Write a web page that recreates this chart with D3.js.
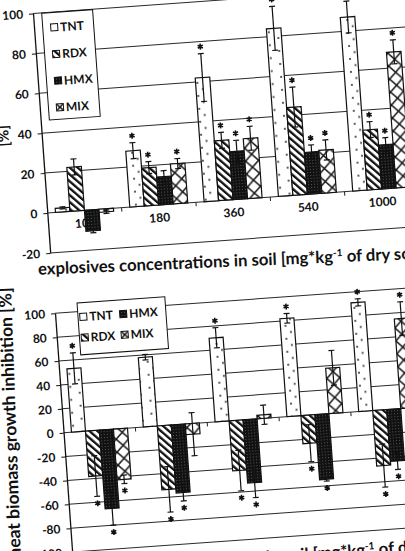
<!DOCTYPE html>
<html>
<head>
<meta charset="utf-8">
<script src="https://cdn.jsdelivr.net/npm/d3@7"></script>
<style>
  body { margin: 0; background: #fff; }
  svg { display: block; font-family: Lato, "Open Sans", sans-serif; }
</style>
</head>
<body>
<div id="chart"></div>
<script>
// Two tilted bar charts (photo of a printed page): growth inhibition [%] by explosive and soil concentration

const categories = ["100", "180", "360", "540", "1000"];
const seriesNames = ["TNT", "RDX", "HMX", "MIX"];

// upper chart
const upperTNT = [2, 28, 62, 84, 87];
const upperRDX = [22, 19, 30, 44, 30];
const upperHMX = [-10.5, 14, 24, 21, 22];
const upperMIX = [-1.5, 20, 30, 21.5, 68];
const upperErrTNT = [0.5, 4, 12, 11, 8];
const upperErrRDX = [4, 3, 4, 10, 4];
const upperErrHMX = [1, 3, 5.5, 3.5, 3.5];
const upperErrMIX = [0.8, 2.5, 6, 5, 6];
const upperSigTNT = [0, 1, 1, 1, 1];
const upperSigRDX = [0, 1, 1, 1, 1];
const upperSigHMX = [0, 0, 1, 1, 1];
const upperSigMIX = [0, 1, 1, 1, 1];
const upperTicks = [-20, 0, 20, 40, 60, 80, 100];

// lower chart
const lowerTNT = [53, 58, 70, 82, 91];
const lowerRDX = [-38, -53.5, -42, -23.5, -46.5];
const lowerHMX = [-66, -57, -53, -54.5, -43.5];
const lowerMIX = [-42.5, -9, 3, 38, 75];
const lowerErrTNT = [13, 2.3, 8.4, 4, 3];
const lowerErrRDX = [17, 19, 17, 15.5, 18];
const lowerErrHMX = [14, 7, 12.5, 1.5, 7];
const lowerErrMIX = [3.5, 18, 8, 14.5, 14];
const lowerSigTNT = [1, 1, 1, 1, 1];
const lowerSigRDX = [1, 1, 1, 1, 1];
const lowerSigHMX = [1, 1, 1, 1, 1];
const lowerSigMIX = [1, 0, 0, 0, 1];
const lowerTicks = [-100, -80, -60, -40, -20, 0, 20, 40, 60, 80, 100];

const xTitle = "explosives concentrations in soil [mg*kg";
const xTitleSup = "-1";
const xTitleEnd = " of dry soil]";

// page in the photo is tilted (and slightly bent, so some titles lean less)
const tilt = -4.1;

const svg = d3.select("#chart").append("svg")
  .attr("width", 405)
  .attr("height", 551);

// fill patterns
const defs = svg.append("defs");

const pTNT = defs.append("pattern").attr("id", "pat-TNT")
  .attr("patternUnits", "userSpaceOnUse").attr("width", 14).attr("height", 13);
pTNT.append("rect").attr("width", 14).attr("height", 13).attr("fill", "#fff");
pTNT.append("circle").attr("cx", 5).attr("cy", 3).attr("r", 0.9).attr("fill", "#111");
pTNT.append("circle").attr("cx", 10).attr("cy", 9.5).attr("r", 0.9).attr("fill", "#111");

const pRDX = defs.append("pattern").attr("id", "pat-RDX")
  .attr("patternUnits", "userSpaceOnUse").attr("width", 5.2).attr("height", 5.2)
  .attr("patternTransform", "rotate(-45)");
pRDX.append("rect").attr("width", 5.2).attr("height", 5.2).attr("fill", "#fff");
pRDX.append("rect").attr("width", 2.3).attr("height", 5.2).attr("fill", "#111");

const pHMX = defs.append("pattern").attr("id", "pat-HMX")
  .attr("patternUnits", "userSpaceOnUse").attr("width", 3).attr("height", 3);
pHMX.append("rect").attr("width", 3).attr("height", 3).attr("fill", "#111");
pHMX.append("rect").attr("x", 1).attr("y", 1).attr("width", 1).attr("height", 1).attr("fill", "#555");

const pMIX = defs.append("pattern").attr("id", "pat-MIX")
  .attr("patternUnits", "userSpaceOnUse").attr("width", 13).attr("height", 13);
pMIX.append("rect").attr("width", 13).attr("height", 13).attr("fill", "#fff");
pMIX.append("path").attr("d", "M0,0L13,13M13,0L0,13")
  .attr("stroke", "#111").attr("stroke-width", 1.5).attr("fill", "none");

function drawChart(cfg) {
  const g = svg.append("g")
    .attr("transform", `translate(${cfg.origin[0]},${cfg.origin[1]}) rotate(${tilt})`);

  const y = d3.scaleLinear().domain(d3.extent(cfg.ticks)).range([cfg.plotH, 0]);
  const x0 = d3.scaleBand().domain(categories).range([0, cfg.plotW])
    .paddingInner(0.22).paddingOuter(0.11);
  const x1 = d3.scaleBand().domain(seriesNames).range([0, x0.bandwidth()]);

  // gridlines
  g.selectAll(".grid").data(cfg.ticks).join("line")
    .attr("class", "grid")
    .attr("x1", 0).attr("x2", cfg.plotW + 20)
    .attr("y1", d => y(d)).attr("y2", d => y(d))
    .attr("stroke", "#2a2a2a").attr("stroke-width", 1);

  // category ticks on the zero line
  const edges = categories.slice(1).map(c => x0(c) - x0.step() * 0.11).concat([cfg.plotW]);
  g.selectAll(".ctick").data(edges).join("line")
    .attr("class", "ctick")
    .attr("x1", d => d).attr("x2", d => d)
    .attr("y1", y(0)).attr("y2", y(0) + 4)
    .attr("stroke", "#222");

  // category labels (sit behind the bars)
  g.selectAll(".clabel").data(categories).join("text")
    .attr("class", "clabel")
    .attr("x", d => x0(d) + x0.bandwidth() / 2)
    .attr("y", y(0) + 17)
    .attr("text-anchor", "middle")
    .attr("font-size", 12).attr("font-weight", 700).attr("fill", "#111")
    .text(d => d);

  const rows = categories.flatMap((c, i) => seriesNames.map(s => ({
    c, s, v: cfg.values[s][i], e: cfg.errors[s][i], sig: cfg.sig[s][i]
  })));

  g.selectAll(".bar").data(rows).join("rect")
    .attr("class", "bar")
    .attr("x", d => x0(d.c) + x1(d.s))
    .attr("width", x1.bandwidth())
    .attr("y", d => y(Math.max(0, d.v)))
    .attr("height", d => Math.abs(y(d.v) - y(0)))
    .attr("fill", d => `url(#pat-${d.s})`)
    .attr("stroke", "#111").attr("stroke-width", 1.2);

  // error bars
  const cx = d => x0(d.c) + x1(d.s) + x1.bandwidth() / 2;
  const eb = g.selectAll(".err").data(rows).join("g").attr("class", "err")
    .attr("stroke", "#111").attr("stroke-width", 1.2);
  eb.append("line")
    .attr("x1", cx).attr("x2", cx)
    .attr("y1", d => y(d.v - d.e)).attr("y2", d => y(d.v + d.e));
  eb.append("line")
    .attr("x1", d => cx(d) - 3).attr("x2", d => cx(d) + 3)
    .attr("y1", d => y(d.v + d.e)).attr("y2", d => y(d.v + d.e));
  eb.append("line")
    .attr("x1", d => cx(d) - 3).attr("x2", d => cx(d) + 3)
    .attr("y1", d => y(d.v - d.e)).attr("y2", d => y(d.v - d.e));

  // significance asterisks
  const star = d3.symbol(d3.symbolAsterisk, 24);
  g.selectAll(".sig").data(rows.filter(d => d.sig)).join("path")
    .attr("class", "sig")
    .attr("d", star)
    .attr("transform", d => `translate(${cx(d)},${d.v >= 0 ? y(d.v + d.e) - 7 : y(d.v - d.e) + 7})`)
    .attr("stroke", "#111").attr("stroke-width", 1.6).attr("fill", "none");

  // y axis
  const yAxis = g.append("g")
    .call(d3.axisLeft(y).tickValues(cfg.ticks).tickSize(4).tickSizeOuter(0)
      .tickPadding(6).tickFormat(d => String(d)));
  yAxis.select(".domain").attr("stroke", "#111").attr("stroke-width", 1.3);
  yAxis.selectAll(".tick line").attr("stroke", "#111");
  yAxis.selectAll("text")
    .attr("font-family", "Lato, sans-serif")
    .attr("font-size", 12).attr("font-weight", 700).attr("fill", "#111");

  // y axis title, pinned at its top end
  g.append("text")
    .attr("transform", `translate(${cfg.yTitlePos[0]},${cfg.yTitlePos[1]}) rotate(${-90 + cfg.yTitleLean})`)
    .attr("text-anchor", cfg.yTitleAnchor)
    .attr("font-size", cfg.yTitleSize).attr("font-weight", 700).attr("fill", "#111")
    .text(cfg.yTitle);

  // x axis title
  const xg = g.append("g")
    .attr("transform", `translate(${cfg.xTitlePos[0]},${cfg.xTitlePos[1]}) rotate(${cfg.xTitleLean})`);
  const xt = xg.append("text")
    .attr("font-size", 16.7).attr("font-weight", 700).attr("fill", "#111");
  const first = xt.append("tspan").text(xTitle);
  xt.append("tspan").attr("dy", -6).attr("font-size", 10).text(xTitleSup);
  xt.append("tspan").attr("dy", 6).text(xTitleEnd);
  if (cfg.xTitleAtBracket) {
    // shift so that the "[" sits at the pinned point
    xt.attr("x", -first.node().getSubStringLength(0, xTitle.indexOf("[")));
  }

  // legend
  const L = cfg.legend;
  const lg = g.append("g").attr("transform", `translate(${L.x},${L.y})`);
  lg.append("rect").attr("width", L.w).attr("height", L.h)
    .attr("fill", "#fff").attr("stroke", "#111").attr("stroke-width", 1);
  const item = lg.selectAll(".li").data(L.order).join("g").attr("class", "li")
    .attr("transform", d => `translate(${L.colX[d.col]},${L.rowY[d.row]})`);
  item.append("rect")
    .attr("x", -3.5).attr("y", -3.5).attr("width", 7).attr("height", 7)
    .attr("fill", d => `url(#pat-${d.s})`).attr("stroke", "#111").attr("stroke-width", 1);
  item.append("text")
    .attr("x", 6).attr("y", 4.5)
    .attr("font-size", 12).attr("font-weight", 700).attr("fill", "#111")
    .text(d => d.s);
}

drawChart({
  origin: [33, 13.5],
  ticks: upperTicks,
  plotH: 240,
  plotW: 372.5,
  values: { TNT: upperTNT, RDX: upperRDX, HMX: upperHMX, MIX: upperMIX },
  errors: { TNT: upperErrTNT, RDX: upperErrRDX, HMX: upperErrHMX, MIX: upperErrMIX },
  sig: { TNT: upperSigTNT, RDX: upperSigRDX, HMX: upperSigHMX, MIX: upperSigMIX },
  yTitle: "[%]",
  yTitlePos: [-33, 120],
  yTitleAnchor: "middle",
  yTitleLean: 0,
  yTitleSize: 15,
  xTitlePos: [-13.5, 261],
  xTitleLean: 1.7,
  xTitleAtBracket: false,
  legend: {
    x: 8.7, y: 0.4, w: 51, h: 107,
    colX: [11.5], rowY: [14.9, 41.6, 68.3, 95],
    order: [
      { s: "TNT", col: 0, row: 0 }, { s: "RDX", col: 0, row: 1 },
      { s: "HMX", col: 0, row: 2 }, { s: "MIX", col: 0, row: 3 }
    ]
  }
});

drawChart({
  origin: [55, 313.3],
  ticks: lowerTicks,
  plotH: 239.4,
  plotW: 360,
  values: { TNT: lowerTNT, RDX: lowerRDX, HMX: lowerHMX, MIX: lowerMIX },
  errors: { TNT: lowerErrTNT, RDX: lowerErrRDX, HMX: lowerErrHMX, MIX: lowerErrMIX },
  sig: { TNT: lowerSigTNT, RDX: lowerSigRDX, HMX: lowerSigHMX, MIX: lowerSigMIX },
  yTitle: "wheat biomass growth inhibition [%]",
  yTitlePos: [-42, -29],
  yTitleAnchor: "end",
  yTitleLean: 2,
  yTitleSize: 17.5,
  xTitlePos: [240, 264],
  xTitleLean: 0,
  xTitleAtBracket: true,
  legend: {
    x: 22.7, y: -8.7, w: 88, h: 52,
    colX: [5.3, 45.3], rowY: [14.2, 35],
    order: [
      { s: "TNT", col: 0, row: 0 }, { s: "HMX", col: 1, row: 0 },
      { s: "RDX", col: 0, row: 1 }, { s: "MIX", col: 1, row: 1 }
    ]
  }
});
</script>
</body>
</html>
